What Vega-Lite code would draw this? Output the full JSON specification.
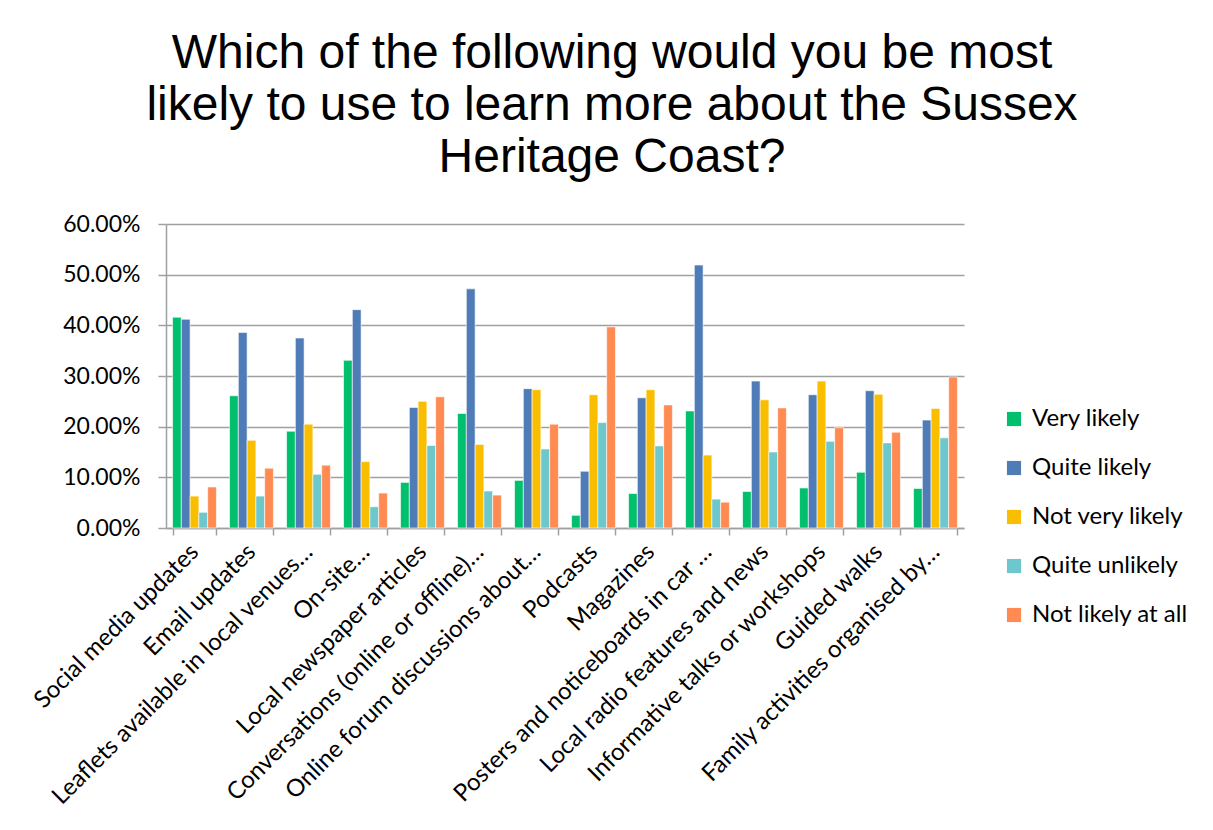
{
  "$schema": "https://vega.github.io/schema/vega-lite/v6.json",
  "autosize": "none",
  "width": 798,
  "height": 304,
  "padding": {"left": 166, "top": 224, "right": 249, "bottom": 302},
  "background": "white",
  "title": {
    "text": ["Which of the following would you be most", "likely to use to learn more about the Sussex", "Heritage Coast?"],
    "font": "Liberation Sans",
    "fontSize": 48,
    "fontWeight": "normal",
    "color": "black",
    "lineHeight": 52,
    "anchor": "middle",
    "frame": "group",
    "dx": 47,
    "offset": 31
  },
  "data": {
    "values": [
      {"cat": "Social media updates", "series": "Very likely", "v": 0.416},
      {"cat": "Social media updates", "series": "Quite likely", "v": 0.412},
      {"cat": "Social media updates", "series": "Not very likely", "v": 0.063},
      {"cat": "Social media updates", "series": "Quite unlikely", "v": 0.031},
      {"cat": "Social media updates", "series": "Not likely at all", "v": 0.081},
      {"cat": "Email updates", "series": "Very likely", "v": 0.261},
      {"cat": "Email updates", "series": "Quite likely", "v": 0.386},
      {"cat": "Email updates", "series": "Not very likely", "v": 0.173},
      {"cat": "Email updates", "series": "Quite unlikely", "v": 0.063},
      {"cat": "Email updates", "series": "Not likely at all", "v": 0.118},
      {"cat": "Leaflets available in local venues…", "series": "Very likely", "v": 0.191},
      {"cat": "Leaflets available in local venues…", "series": "Quite likely", "v": 0.375},
      {"cat": "Leaflets available in local venues…", "series": "Not very likely", "v": 0.205},
      {"cat": "Leaflets available in local venues…", "series": "Quite unlikely", "v": 0.106},
      {"cat": "Leaflets available in local venues…", "series": "Not likely at all", "v": 0.124},
      {"cat": "On-site…", "series": "Very likely", "v": 0.331},
      {"cat": "On-site…", "series": "Quite likely", "v": 0.431},
      {"cat": "On-site…", "series": "Not very likely", "v": 0.131},
      {"cat": "On-site…", "series": "Quite unlikely", "v": 0.042},
      {"cat": "On-site…", "series": "Not likely at all", "v": 0.069},
      {"cat": "Local newspaper articles", "series": "Very likely", "v": 0.090},
      {"cat": "Local newspaper articles", "series": "Quite likely", "v": 0.238},
      {"cat": "Local newspaper articles", "series": "Not very likely", "v": 0.250},
      {"cat": "Local newspaper articles", "series": "Quite unlikely", "v": 0.163},
      {"cat": "Local newspaper articles", "series": "Not likely at all", "v": 0.259},
      {"cat": "Conversations (online or offline)…", "series": "Very likely", "v": 0.226},
      {"cat": "Conversations (online or offline)…", "series": "Quite likely", "v": 0.472},
      {"cat": "Conversations (online or offline)…", "series": "Not very likely", "v": 0.165},
      {"cat": "Conversations (online or offline)…", "series": "Quite unlikely", "v": 0.073},
      {"cat": "Conversations (online or offline)…", "series": "Not likely at all", "v": 0.065},
      {"cat": "Online forum discussions about…", "series": "Very likely", "v": 0.094},
      {"cat": "Online forum discussions about…", "series": "Quite likely", "v": 0.275},
      {"cat": "Online forum discussions about…", "series": "Not very likely", "v": 0.273},
      {"cat": "Online forum discussions about…", "series": "Quite unlikely", "v": 0.156},
      {"cat": "Online forum discussions about…", "series": "Not likely at all", "v": 0.205},
      {"cat": "Podcasts", "series": "Very likely", "v": 0.025},
      {"cat": "Podcasts", "series": "Quite likely", "v": 0.112},
      {"cat": "Podcasts", "series": "Not very likely", "v": 0.263},
      {"cat": "Podcasts", "series": "Quite unlikely", "v": 0.208},
      {"cat": "Podcasts", "series": "Not likely at all", "v": 0.397},
      {"cat": "Magazines", "series": "Very likely", "v": 0.068},
      {"cat": "Magazines", "series": "Quite likely", "v": 0.257},
      {"cat": "Magazines", "series": "Not very likely", "v": 0.273},
      {"cat": "Magazines", "series": "Quite unlikely", "v": 0.162},
      {"cat": "Magazines", "series": "Not likely at all", "v": 0.243},
      {"cat": "Posters and noticeboards in car …", "series": "Very likely", "v": 0.231},
      {"cat": "Posters and noticeboards in car …", "series": "Quite likely", "v": 0.519},
      {"cat": "Posters and noticeboards in car …", "series": "Not very likely", "v": 0.144},
      {"cat": "Posters and noticeboards in car …", "series": "Quite unlikely", "v": 0.057},
      {"cat": "Posters and noticeboards in car …", "series": "Not likely at all", "v": 0.051},
      {"cat": "Local radio features and news", "series": "Very likely", "v": 0.072},
      {"cat": "Local radio features and news", "series": "Quite likely", "v": 0.290},
      {"cat": "Local radio features and news", "series": "Not very likely", "v": 0.253},
      {"cat": "Local radio features and news", "series": "Quite unlikely", "v": 0.150},
      {"cat": "Local radio features and news", "series": "Not likely at all", "v": 0.237},
      {"cat": "Informative talks or workshops", "series": "Very likely", "v": 0.079},
      {"cat": "Informative talks or workshops", "series": "Quite likely", "v": 0.263},
      {"cat": "Informative talks or workshops", "series": "Not very likely", "v": 0.290},
      {"cat": "Informative talks or workshops", "series": "Quite unlikely", "v": 0.171},
      {"cat": "Informative talks or workshops", "series": "Not likely at all", "v": 0.198},
      {"cat": "Guided walks", "series": "Very likely", "v": 0.110},
      {"cat": "Guided walks", "series": "Quite likely", "v": 0.271},
      {"cat": "Guided walks", "series": "Not very likely", "v": 0.264},
      {"cat": "Guided walks", "series": "Quite unlikely", "v": 0.168},
      {"cat": "Guided walks", "series": "Not likely at all", "v": 0.189},
      {"cat": "Family activities organised by…", "series": "Very likely", "v": 0.078},
      {"cat": "Family activities organised by…", "series": "Quite likely", "v": 0.213},
      {"cat": "Family activities organised by…", "series": "Not very likely", "v": 0.236},
      {"cat": "Family activities organised by…", "series": "Quite unlikely", "v": 0.178},
      {"cat": "Family activities organised by…", "series": "Not likely at all", "v": 0.298}
    ]
  },
  "mark": {"type": "bar", "stroke": "white", "strokeWidth": 0.6},
  "encoding": {
    "x": {
      "field": "cat",
      "type": "nominal",
      "sort": null,
      "scale": {"paddingInner": 0.23, "paddingOuter": 0.115},
      "axis": {
        "title": null,
        "labelAngle": -45,
        "labelAlign": "right",
        "labelBaseline": "middle",
        "labelFont": "Lato",
        "labelFontSize": 24,
        "labelColor": "black",
        "labelLimit": 0,
        "labelPadding": 13,
        "tickBand": "extent",
        "tickSize": 7,
        "tickColor": "#A0A0A0",
        "tickWidth": 1.5,
        "domainColor": "#A0A0A0",
        "domainWidth": 1.5,
        "grid": false
      }
    },
    "xOffset": {
      "field": "series",
      "type": "nominal",
      "sort": ["Very likely", "Quite likely", "Not very likely", "Quite unlikely", "Not likely at all"],
      "scale": {"paddingInner": 0, "paddingOuter": 0}
    },
    "y": {
      "field": "v",
      "type": "quantitative",
      "scale": {"domain": [0, 0.6]},
      "axis": {
        "title": null,
        "format": ".2%",
        "values": [0, 0.1, 0.2, 0.3, 0.4, 0.5, 0.6],
        "labelFont": "Lato",
        "labelFontSize": 23,
        "labelColor": "black",
        "labelPadding": 18,
        "tickSize": 8,
        "tickColor": "#A0A0A0",
        "tickWidth": 1.5,
        "domainColor": "#A0A0A0",
        "domainWidth": 1.5,
        "grid": true,
        "gridColor": "#A0A0A0",
        "gridWidth": 1.5
      }
    },
    "color": {
      "field": "series",
      "type": "nominal",
      "sort": ["Very likely", "Quite likely", "Not very likely", "Quite unlikely", "Not likely at all"],
      "scale": {
        "domain": ["Very likely", "Quite likely", "Not very likely", "Quite unlikely", "Not likely at all"],
        "range": ["#00C06E", "#4F7BB6", "#FABE00", "#6CC8CC", "#FF8B52"]
      },
      "legend": {
        "title": null,
        "orient": "none",
        "legendX": 836,
        "legendY": 183,
        "symbolType": "square",
        "symbolSize": 200,
        "symbolStrokeWidth": 0,
        "labelFont": "Lato",
        "labelFontSize": 24,
        "labelColor": "black",
        "labelOffset": 6,
        "rowPadding": 25
      }
    }
  },
  "config": {"view": {"stroke": null}}
}
